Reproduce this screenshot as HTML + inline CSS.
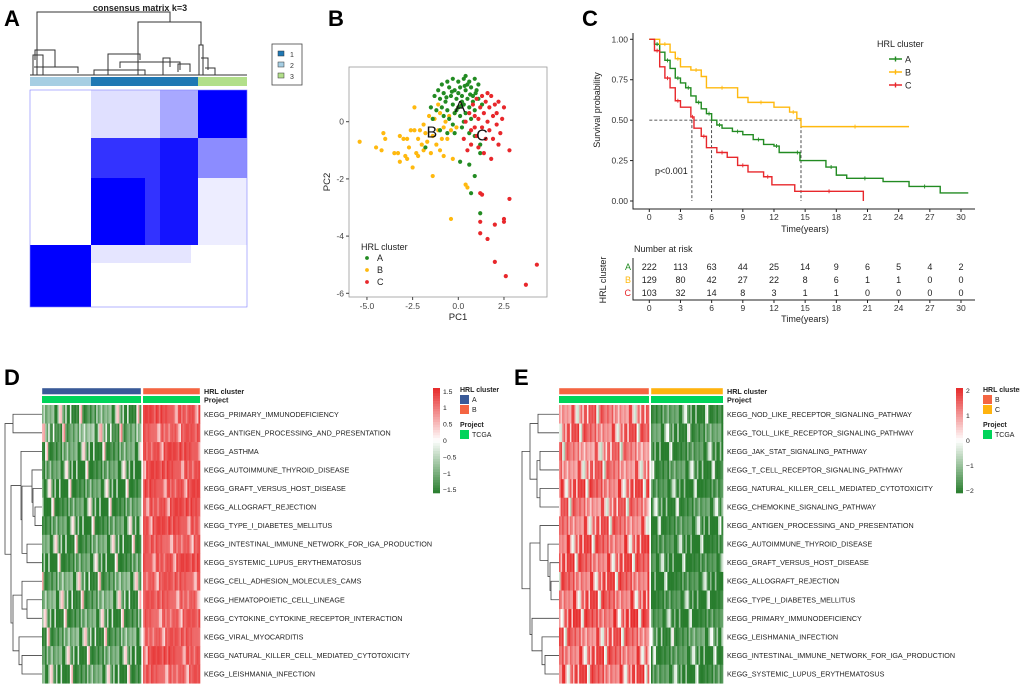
<!DOCTYPE html>
<html><head><meta charset="utf-8">
<style>
body{margin:0;background:#fff;}
svg{display:block;font-family:"Liberation Sans",Arial,sans-serif;}
.pl{font-weight:bold;font-size:22px;}
.hl{font-size:7.2px;fill:#222;}
</style></head>
<body>
<svg id="fig" width="1020" height="689" viewBox="0 0 1020 689">
<!-- Panel labels -->
<text class="pl" x="4" y="26">A</text>
<text class="pl" x="328" y="26">B</text>
<text class="pl" x="582" y="26">C</text>
<text class="pl" x="4" y="385">D</text>
<text class="pl" x="514" y="385">E</text>

<!-- Panel A -->
<g id="pa">
<text x="140" y="11" font-size="9" font-weight="bold" text-anchor="middle" fill="#222">consensus matrix k=3</text>
<g stroke="#333" stroke-width="1" fill="none">
<path d="M37,75V12H170V22"/><path d="M138,75V22H201V45"/>
<path d="M33,75V55H43V75"/><path d="M35,60V50H55V67"/><path d="M34,67H78V73"/>
<path d="M108,75V54H140V60"/><path d="M94,75V70H145V75"/><path d="M120,68V62H180V70"/>
<path d="M163,75V58H170V67"/><path d="M178,72V64H190V72"/>
<path d="M199,75V45H203V75"/><path d="M201,58H208V70"/><path d="M205,68H215V75"/>
<path d="M30,75H247"/>
</g>
<rect x="30" y="77" width="61" height="9" fill="#a6cee3"/>
<rect x="91" y="77" width="107" height="9" fill="#1f78b4"/>
<rect x="198" y="77" width="49" height="9" fill="#b2df8a"/>
<g>
<rect x="30" y="90" width="217" height="217" fill="#fff"/>
<rect x="91" y="90" width="107" height="48" fill="#0000ff" opacity="0.12"/>
<rect x="160" y="90" width="38" height="48" fill="#0000ff" opacity="0.25"/>
<rect x="198" y="90" width="49" height="48" fill="#0000ff"/>
<rect x="91" y="138" width="107" height="107" fill="#0000ff" opacity="0.8"/>
<rect x="91" y="178" width="54" height="67" fill="#0000ff"/>
<rect x="160" y="138" width="38" height="107" fill="#0000ff" opacity="0.6"/>
<rect x="198" y="138" width="49" height="40" fill="#0000ff" opacity="0.45"/>
<rect x="198" y="178" width="49" height="67" fill="#0000ff" opacity="0.07"/>
<rect x="91" y="245" width="100" height="18" fill="#0000ff" opacity="0.1"/>
<rect x="30" y="245" width="61" height="62" fill="#0000ff"/>
<rect x="75" y="245" width="16" height="62" fill="#0000ff" opacity="0.3"/>
<rect x="30" y="90" width="217" height="217" fill="none" stroke="#8080ff" stroke-width="0.6"/>
</g>
<g>
<rect x="272" y="44" width="30" height="41" fill="#fff" stroke="#444" stroke-width="0.8"/>
<rect x="278" y="51" width="6" height="5" fill="#1f78b4" stroke="#333" stroke-width="0.5"/>
<rect x="278" y="62" width="6" height="5" fill="#a6cee3" stroke="#333" stroke-width="0.5"/>
<rect x="278" y="73" width="6" height="5" fill="#b2df8a" stroke="#333" stroke-width="0.5"/>
<text x="290" y="57" font-size="7" fill="#333">1</text>
<text x="290" y="68" font-size="7" fill="#333">2</text>
<text x="290" y="79" font-size="7" fill="#333">3</text>
</g>
</g>

<g id="pb"></g>
<g id="pc"></g>
<g id="pd"></g>
<g id="pe"></g>
</svg>

<script>
// ===== PCA data =====
const pcaA = [[-0.9,1.3],[-0.6,1.4],[-0.3,1.5],[0,1.4],[0.3,1.5],[0.6,1.4],[0.9,1.5],[1.1,1.3],[-1.1,1.1],[-0.8,1.0],[-0.5,1.2],[-0.2,1.1],[0.1,1.2],[0.4,1.1],[0.7,1.2],[1.0,1.1],[-1.3,0.9],[-1.0,0.8],[-0.7,0.7],[-0.4,0.9],[-0.1,0.8],[0.2,0.9],[0.5,0.8],[0.8,0.9],[1.1,0.8],[-1.5,0.5],[-1.2,0.4],[-0.9,0.5],[-0.6,0.4],[-0.3,0.6],[0,0.5],[0.3,0.6],[0.6,0.5],[0.9,0.4],[-0.8,0.2],[-0.5,0.1],[-0.2,0.3],[0.1,0.2],[0.4,0.3],[0.7,0.1],[-0.3,-0.1],[0.2,-0.2],[0.6,-0.4],[-1.0,-0.3],[-1.8,-0.9],[0.1,-1.4],[0.6,-1.5],[0.9,-1.9],[0.7,-2.5],[1.2,-3.2],[1.2,-0.8],[0.9,-0.5],[1.2,-1.1],[-1.4,0.1],[0.5,1.3],[0.0,1.0],[0.3,0.0],[-0.6,-0.4],[1.3,0.6],[0.2,0.7],[-0.1,0.4],[0.8,0.7],[0.4,1.6],[-0.2,-0.4],[0.35,1.25],[0.65,0.95],[-0.35,1.05],[0.95,1.0],[0.15,0.55],[-0.65,0.85]];
const pcaB = [[-5.4,-0.7],[-4.5,-0.9],[-4.2,-1.0],[-4.1,-0.4],[-4.0,-0.6],[-3.3,-1.1],[-3.2,-1.4],[-3.2,-0.5],[-3.0,-0.6],[-2.9,-1.2],[-2.8,-0.6],[-2.7,-0.9],[-2.6,-0.3],[-2.5,-1.6],[-2.4,-0.3],[-2.3,-1.1],[-2.2,-0.6],[-2.1,-0.3],[-2.0,-0.8],[-1.9,-1.0],[-1.8,-0.4],[-1.7,-0.7],[-1.6,0.2],[-1.5,-1.1],[-1.4,-1.9],[-1.4,-0.5],[-1.3,0.1],[-1.2,-0.8],[-1.1,-0.3],[-1.0,0.3],[-1.0,-1.0],[-0.9,-0.6],[-0.8,-0.2],[-0.7,0.0],[-0.6,-0.6],[-0.5,0.2],[-0.4,-0.3],[-0.3,-1.3],[-0.2,0.3],[-0.1,-0.2],[0.0,0.5],[0.2,0.6],[0.4,-2.2],[0.5,-2.3],[-0.4,-3.4],[-2.4,0.5],[-1.9,-0.1],[-1.1,0.6],[-3.5,-1.1],[-2.8,-1.3],[-2.2,-1.2],[-0.8,-1.2]];
const pcaC = [[0.4,0.0],[0.6,0.3],[0.7,-0.3],[0.8,0.6],[0.9,0.2],[1.0,-0.5],[1.0,0.8],[1.1,0.1],[1.2,0.5],[1.3,-0.2],[1.3,0.9],[1.4,0.3],[1.5,-0.6],[1.5,0.7],[1.6,0.0],[1.7,0.5],[1.7,-0.3],[1.8,0.9],[1.9,0.2],[1.9,-0.6],[2.0,0.6],[2.1,-0.1],[2.1,0.3],[2.2,0.7],[2.3,-0.4],[2.4,0.1],[2.5,0.5],[1.4,-1.1],[1.8,-1.3],[0.5,-1.0],[0.7,-0.8],[1.1,-0.9],[2.8,-1.0],[1.2,-2.5],[1.3,-2.55],[2.8,-2.7],[2.5,-3.4],[2.5,-3.5],[2.0,-3.6],[1.2,-3.5],[1.2,-3.9],[1.6,-4.1],[2.0,-4.9],[2.6,-5.4],[3.7,-5.7],[4.3,-5.0],[0.3,-0.6],[0.9,-0.2],[1.6,1.0],[2.2,-0.8]];
const pcaXTicks = [-5.0,-2.5,0.0,2.5];
const pcaYTicks = [0,-2,-4,-6];
const pcaCentroids = [["A",0.1,0.55],["B",-1.45,-0.35],["C",1.3,-0.45]];

// ===== Survival data =====
const survA = [[0,1.0],[0.5,0.97],[1,0.92],[1.5,0.87],[2,0.82],[2.5,0.76],[3,0.73],[3.5,0.70],[4,0.65],[4.5,0.61],[5,0.57],[5.5,0.54],[6,0.50],[6.5,0.47],[7,0.45],[8,0.43],[9,0.41],[10,0.38],[11,0.35],[12,0.34],[12.5,0.30],[14,0.30],[14.5,0.25],[17,0.21],[18,0.16],[19,0.14],[22.5,0.12],[25,0.09],[28,0.05],[30.7,0.05]];
const survB = [[0,1.0],[1,0.97],[2,0.92],[2.5,0.88],[3,0.83],[4,0.81],[5,0.77],[5.5,0.70],[8.5,0.64],[9.5,0.61],[12,0.58],[13.5,0.55],[14.2,0.51],[14.6,0.46],[25,0.46]];
const survC = [[0,1.0],[0.5,0.93],[1,0.83],[1.5,0.76],[2,0.70],[2.5,0.62],[3,0.58],[4,0.52],[4.3,0.45],[5,0.40],[5.5,0.33],[6.5,0.30],[7.5,0.27],[8.5,0.22],[9.5,0.18],[11,0.15],[11.8,0.10],[14,0.06],[20.6,0.06],[20.6,0.0]];
const survXTicks = [0,3,6,9,12,15,18,21,24,27,30];
const survYTicks = [0,0.25,0.5,0.75,1.0];
const survYLabels = ["0.00","0.25","0.50","0.75","1.00"];
const medians = [4.1,6.0,14.6];
const riskA = [222,113,63,44,25,14,9,6,5,4,2];
const riskB = [129,80,42,27,22,8,6,1,1,0,0];
const riskC = [103,32,14,8,3,1,1,0,0,0,0];

// ===== Heatmap data =====
const rowsD = ["KEGG_PRIMARY_IMMUNODEFICIENCY","KEGG_ANTIGEN_PROCESSING_AND_PRESENTATION","KEGG_ASTHMA","KEGG_AUTOIMMUNE_THYROID_DISEASE","KEGG_GRAFT_VERSUS_HOST_DISEASE","KEGG_ALLOGRAFT_REJECTION","KEGG_TYPE_I_DIABETES_MELLITUS","KEGG_INTESTINAL_IMMUNE_NETWORK_FOR_IGA_PRODUCTION","KEGG_SYSTEMIC_LUPUS_ERYTHEMATOSUS","KEGG_CELL_ADHESION_MOLECULES_CAMS","KEGG_HEMATOPOIETIC_CELL_LINEAGE","KEGG_CYTOKINE_CYTOKINE_RECEPTOR_INTERACTION","KEGG_VIRAL_MYOCARDITIS","KEGG_NATURAL_KILLER_CELL_MEDIATED_CYTOTOXICITY","KEGG_LEISHMANIA_INFECTION"];
const rowsE = ["KEGG_NOD_LIKE_RECEPTOR_SIGNALING_PATHWAY","KEGG_TOLL_LIKE_RECEPTOR_SIGNALING_PATHWAY","KEGG_JAK_STAT_SIGNALING_PATHWAY","KEGG_T_CELL_RECEPTOR_SIGNALING_PATHWAY","KEGG_NATURAL_KILLER_CELL_MEDIATED_CYTOTOXICITY","KEGG_CHEMOKINE_SIGNALING_PATHWAY","KEGG_ANTIGEN_PROCESSING_AND_PRESENTATION","KEGG_AUTOIMMUNE_THYROID_DISEASE","KEGG_GRAFT_VERSUS_HOST_DISEASE","KEGG_ALLOGRAFT_REJECTION","KEGG_TYPE_I_DIABETES_MELLITUS","KEGG_PRIMARY_IMMUNODEFICIENCY","KEGG_LEISHMANIA_INFECTION","KEGG_INTESTINAL_IMMUNE_NETWORK_FOR_IGA_PRODUCTION","KEGG_SYSTEMIC_LUPUS_ERYTHEMATOSUS"];
const stripePattern = [0.3,-0.4,0.1,1.8,-0.6,0.5,-0.2,0.9,-0.5,0.2,2.0,-0.3,0.6,-0.7,0.0,1.2,-0.4,0.4,-0.1,-0.6,1.6,0.3,-0.5,0.8,-0.2,0.1,-0.6,2.2,0.5,-0.3,0.0,1.0,-0.4,0.7,-0.1,0.2,-0.5];
const rowMeanD_A = [-1.2,-1.0,-1.3,-1.4,-1.4,-1.4,-1.4,-1.3,-1.4,-1.2,-1.2,-1.3,-1.2,-1.3,-1.3];
const rowMeanD_B = [1.5,1.4,1.5,1.5,1.5,1.5,1.5,1.4,1.5,1.4,1.4,1.4,1.4,1.5,1.4];
const rowMeanE_B = [1.3,1.4,1.2,1.3,1.5,1.3,1.4,1.5,1.5,1.5,1.5,1.6,1.4,1.5,1.5];
const rowMeanE_C = [-1.8,-1.7,-1.9,-1.8,-2.0,-1.8,-1.9,-2.0,-2.0,-2.0,-2.0,-2.0,-1.7,-1.9,-1.9];
const treeD = [5,[13,0,1],[11,[21,2,[22,[32,3,[33,4,[35,5,6]]],[27,7,8]]],[13,[22,9,[27,10,11]],[19,12,[22,13,14]]]]];
const treeE = [12,[20,[28,0,1],[27,[30,2,3],[30,4,5]]],[20,[30,6,[38,7,[40,8,[41,9,10]]]],[22,11,[32,12,[35,13,14]]]]];

const NS = "http://www.w3.org/2000/svg";
function mk(parent, tag, attrs, txt){
  const e = document.createElementNS(NS, tag);
  for (const k in attrs) e.setAttribute(k, attrs[k]);
  if (txt !== undefined) e.textContent = txt;
  parent.appendChild(e);
  return e;
}

// ===== Panel B =====
(function(){
  const g = document.getElementById('pb');
  const xs = v => 458.3 + v*18.27, ys = v => 121.7 - v*28.6;
  const box = mk(g,'rect',{x:349,y:67,width:198,height:230,fill:'#fff',stroke:'#999','stroke-width':0.8});
  
  
  pcaXTicks.forEach(t=>{
    mk(g,'line',{x1:xs(t),x2:xs(t),y1:297,y2:300,stroke:'#444'});
    const tl = mk(g,'text',{x:xs(t),y:309,'font-size':8.5,'text-anchor':'middle',fill:'#444'},t.toFixed(1));
    
    
  });
  pcaYTicks.forEach(t=>{
    mk(g,'line',{x1:346,x2:349,y1:ys(t),y2:ys(t),stroke:'#444'});
    const tl = mk(g,'text',{x:344,y:ys(t)+3,'font-size':8.5,'text-anchor':'end',fill:'#444'},String(t));
    
    
  });
  const xl = mk(g,'text',{x:458,y:320,'font-size':9.5,'text-anchor':'middle',fill:'#222'},'PC1');
  
  
  const yl = mk(g,'text',{x:330,y:182,'font-size':9.5,'text-anchor':'middle',fill:'#222',transform:'rotate(-90 330 182)'},'PC2');
  
  
  const sets = [[pcaB,'#ffb90f','pca-points-b'],[pcaA,'#228b22','pca-points-a'],[pcaC,'#e8272b','pca-points-c']];
  sets.forEach(([arr,col,name])=>{
    const sg = mk(g,'g',{fill:col});
    
    
    arr.forEach(p=>{ mk(sg,'circle',{cx:xs(p[0]),cy:ys(p[1]),r:2.1}); });
  });
  pcaCentroids.forEach(c=>{
    const t = mk(g,'text',{x:xs(c[1]),y:ys(c[2])+6,'font-size':16,'text-anchor':'middle',fill:'#111'},c[0]);
    
    
  });
  const lg = mk(g,'g',{});
  
  
  mk(lg,'text',{x:361,y:250,'font-size':9,fill:'#222'},'HRL cluster');
  [['A','#228b22'],['B','#ffb90f'],['C','#e8272b']].forEach((e,i)=>{
    mk(lg,'circle',{cx:367,cy:258+i*12,r:1.9,fill:e[1]});
    mk(lg,'text',{x:377,y:261+i*12,'font-size':9,fill:'#222'},e[0]);
  });
})();

// ===== Panel C =====
(function(){
  const g = document.getElementById('pc');
  const xs = t => 649.3 + t*10.39, ys = v => 201 - v*161.7;
  mk(g,'path',{d:'M633,33V209H975',stroke:'#222','stroke-width':1,fill:'none'});
  survXTicks.forEach(t=>{
    mk(g,'line',{x1:xs(t),x2:xs(t),y1:209,y2:212,stroke:'#222'});
    const tl = mk(g,'text',{x:xs(t),y:220,'font-size':8.5,'text-anchor':'middle',fill:'#333'},String(t));
    
    
  });
  survYTicks.forEach((t,i)=>{
    mk(g,'line',{x1:630,x2:633,y1:ys(t),y2:ys(t),stroke:'#222'});
    const tl = mk(g,'text',{x:628,y:ys(t)+3,'font-size':8.5,'text-anchor':'end',fill:'#333'},survYLabels[i]);
    
    
  });
  const xt = mk(g,'text',{x:805,y:232,'font-size':9,'text-anchor':'middle',fill:'#222'},'Time(years)');
  
  
  const yt = mk(g,'text',{x:600,y:110,'font-size':9,'text-anchor':'middle',fill:'#222',transform:'rotate(-90 600 110)'},'Survival probability');
  
  
  const md = mk(g,'g',{stroke:'#222','stroke-width':0.8,'stroke-dasharray':'3,2',fill:'none'});
  
  
  mk(md,'line',{x1:xs(0),x2:xs(medians[2]),y1:ys(0.5),y2:ys(0.5)});
  medians.forEach(m=>mk(md,'line',{x1:xs(m),x2:xs(m),y1:ys(0.5),y2:ys(0)}));
  const pv = mk(g,'text',{x:655,y:174,'font-size':9,fill:'#222'},'p<0.001');
  
  
  [[survA,'#228b22','survival-curve-a'],[survB,'#ffb90f','survival-curve-b'],[survC,'#e8272b','survival-curve-c']].forEach(([arr,col,name])=>{
    let d = 'M'+xs(arr[0][0])+','+ys(arr[0][1]);
    for (let i=1;i<arr.length;i++){ d += 'H'+xs(arr[i][0])+'V'+ys(arr[i][1]); }
    const p = mk(g,'path',{d:d,stroke:col,'stroke-width':1.4,fill:'none'});
    
    
    const cg = mk(g,'g',{stroke:col,'stroke-width':0.9});
    
    
    for (let i=1;i<arr.length-1;i+=2){
      const cx = (xs(arr[i][0])+xs(arr[i+1][0]))/2, cy = ys(arr[i][1]);
      mk(cg,'path',{d:`M${cx-2},${cy}H${cx+2}M${cx},${cy-2}V${cy+2}`});
    }
  });
  const lg = mk(g,'g',{});
  
  
  mk(lg,'text',{x:877,y:47,'font-size':9,fill:'#222'},'HRL cluster');
  [['A','#228b22'],['B','#ffb90f'],['C','#e8272b']].forEach((e,i)=>{
    const y = 59+i*13;
    mk(lg,'path',{d:`M889,${y}H902M895.5,${y-2.5}V${y+2.5}`,stroke:e[1],'stroke-width':1.4});
    mk(lg,'text',{x:905,y:y+3.5,'font-size':9,fill:'#222'},e[0]);
  });
  const rt = mk(g,'g',{});
  
  
  mk(rt,'text',{x:634,y:252,'font-size':9,fill:'#222'},'Number at risk');
  mk(rt,'path',{d:'M633,258V300H975',stroke:'#222',fill:'none'});
  const rows = [['A','#228b22',riskA],['B','#ffb90f',riskB],['C','#e8272b',riskC]];
  rows.forEach((r,ri)=>{
    const y = 270+ri*13;
    mk(rt,'text',{x:631,y:y,'font-size':9,'text-anchor':'end',fill:r[1]},r[0]);
    r[2].forEach((v,i)=>{
      const t = mk(rt,'text',{x:xs(survXTicks[i]),y:y,'font-size':9,'text-anchor':'middle',fill:'#222'},String(v));
      
      
    });
  });
  survXTicks.forEach(t=>{
    mk(rt,'line',{x1:xs(t),x2:xs(t),y1:300,y2:303,stroke:'#222'});
    mk(rt,'text',{x:xs(t),y:311,'font-size':8.5,'text-anchor':'middle',fill:'#333'},String(t));
  });
  mk(rt,'text',{x:805,y:322,'font-size':9,'text-anchor':'middle',fill:'#222'},'Time(years)');
  mk(rt,'text',{x:606,y:280,'font-size':9,'text-anchor':'middle',fill:'#222',transform:'rotate(-90 606 280)'},'HRL cluster');
})();

// ===== Heatmaps =====
function colorScale(v, lim){
  const t = Math.max(-1, Math.min(1, v/lim));
  const W=[255,255,255], R=[230,40,40], G=[40,125,45];
  const c = t>=0 ? R : G, a = Math.abs(t);
  return 'rgb('+W.map((w,i)=>Math.round(w+(c[i]-w)*a)).join(',')+')';
}
function drawTree(g, node, rowY, leafX, off){
  if (typeof node === 'number') return {x:leafX, y:rowY(node)};
  const a = drawTree(g,node[1],rowY,leafX,off), b = drawTree(g,node[2],rowY,leafX,off);
  const x = off+node[0];
  mk(g,'path',{d:`M${a.x},${a.y}H${x}V${b.y}H${b.x}`,stroke:'#444','stroke-width':0.8,fill:'none'});
  return {x:x, y:(a.y+b.y)/2};
}
function heatmap(opt){
  const g = document.getElementById(opt.id);
  const top = 405, rh = 18.55;
  const rowY = i => top + rh*(i+0.5);
  const groups = opt.groups;
  groups.forEach(gr=>{
    const b1 = mk(g,'rect',{x:gr.x0,y:388,width:gr.x1-gr.x0,height:6.5,fill:gr.col,stroke:'#fff','stroke-width':0.4});
    
    
    const b2 = mk(g,'rect',{x:gr.x0,y:396,width:gr.x1-gr.x0,height:7,fill:'#00d45a'});
    
    
  });
  const lx = groups[groups.length-1].x1+4;
  mk(g,'text',{x:lx,y:394,'font-size':7.2,'font-weight':'bold',fill:'#222'},'HRL cluster');
  mk(g,'text',{x:lx,y:402.5,'font-size':7.2,'font-weight':'bold',fill:'#222'},'Project');
  const cells = mk(g,'g',{});
  
  
  opt.rows.forEach((name,r)=>{
    groups.forEach((gr,gi)=>{
      const w = (gr.x1-gr.x0)/gr.n;
      for (let c=0;c<gr.n;c++){
        const p = stripePattern[(c*7 + r*3 + gi*11) % stripePattern.length];
        const v = gr.val(gr.means[r], p);
        mk(cells,'rect',{x:(gr.x0+c*w).toFixed(2),y:(top+r*rh).toFixed(2),width:(w+0.3).toFixed(2),height:rh+0.3,fill:colorScale(v,opt.lim)});
      }
    });
    const t = mk(g,'text',{x:lx,y:rowY(r)+2.5,class:'hl'},name);
    
    
  });
  const tg = mk(g,'g',{});
  
  
  drawTree(tg, opt.tree, rowY, groups[0].x0, opt.off);
  const cb = mk(g,'g',{});
  
  
  const steps = 40;
  for (let i=0;i<steps;i++){
    const v = opt.lim - (2*opt.lim)*(i+0.5)/steps;
    mk(cb,'rect',{x:opt.cbx,y:388+i*105/steps,width:7,height:105/steps+0.3,fill:colorScale(v,opt.lim)});
  }
  opt.cbTicks.forEach(t=>{
    const y = 388 + (opt.lim - t)/(2*opt.lim)*105;
    mk(cb,'text',{x:opt.cbx+10,y:y+2.5,'font-size':6.8,fill:'#222'},String(t).replace('-','\u2212'));
  });
  const lg = mk(g,'g',{});
  
  
  const lgx = opt.cbx+27;
  mk(lg,'text',{x:lgx,y:392,'font-size':7,'font-weight':'bold',fill:'#222'},'HRL cluster');
  groups.forEach((gr,i)=>{
    mk(lg,'rect',{x:lgx,y:395+i*10,width:9,height:9,fill:gr.col});
    mk(lg,'text',{x:lgx+12,y:402+i*10,'font-size':7,fill:'#222'},gr.label);
  });
  mk(lg,'text',{x:lgx,y:427,'font-size':7,'font-weight':'bold',fill:'#222'},'Project');
  mk(lg,'rect',{x:lgx,y:430,width:9,height:9,fill:'#00d45a'});
  mk(lg,'text',{x:lgx+12,y:437,'font-size':7,fill:'#222'},'TCGA');
}
heatmap({id:'pd', rows:rowsD, tree:treeD, off:0, lim:1.6, cbx:433, cbTicks:[1.5,1,0.5,0,-0.5,-1,-1.5],
  groups:[
    {x0:42,x1:141,n:64,col:'#3a5a98',label:'A',means:rowMeanD_A,val:(m,p)=>m+p*0.85},
    {x0:143,x1:200,n:36,col:'#f46542',label:'B',means:rowMeanD_B,val:(m,p)=>m-Math.abs(p)*0.5}
  ]});
heatmap({id:'pe', rows:rowsE, tree:treeE, off:510, lim:2.1, cbx:956, cbTicks:[2,1,0,-1,-2],
  groups:[
    {x0:559,x1:649,n:58,col:'#f46542',label:'B',means:rowMeanE_B,val:(m,p)=>m-p*0.9},
    {x0:651,x1:723,n:44,col:'#ffb30f',label:'C',means:rowMeanE_C,val:(m,p)=>m+p*0.85}
  ]});
</script>
</body></html>
